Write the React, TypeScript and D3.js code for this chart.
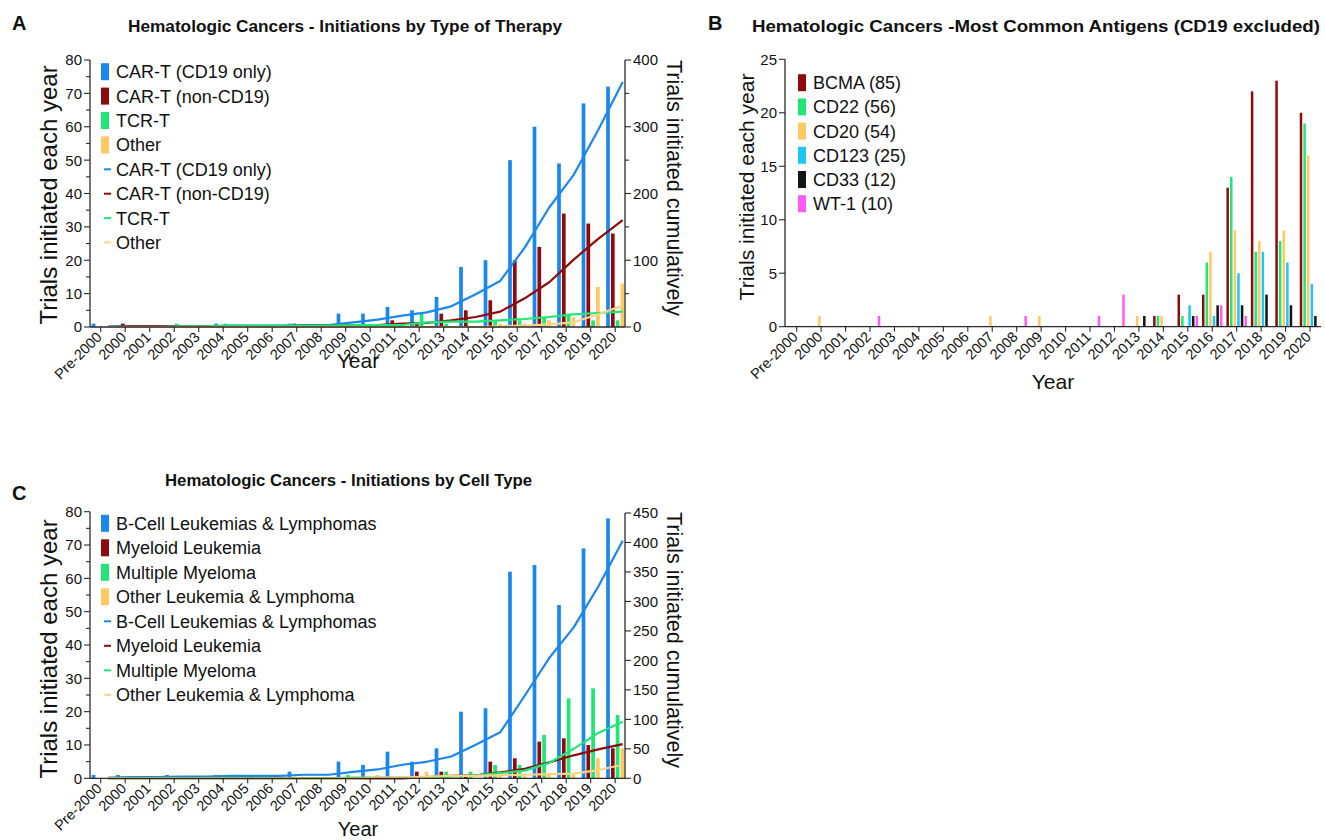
import React from 'react';
import * as d3 from 'd3';

// ---------- shared categories ----------
const CATS = ['Pre-2000','2000','2001','2002','2003','2004','2005','2006','2007','2008','2009','2010','2011','2012','2013','2014','2015','2016','2017','2018','2019','2020'];

// ---------- Panel A : by type of therapy ----------
const A_SERIES = ['CAR-T (CD19 only)','CAR-T (non-CD19)','TCR-T','Other'];
const A_CD19 =    [1,0,0,0,0,1,0,0,1,0,4,4,6,5,9,18,20,50,60,49,67,72];
const A_NONCD19 = [0,1,0,0,0,0,0,0,1,0,1,0,2,1,4,5,8,20,24,34,31,28];
const A_TCRT =    [0,0,0,1,0,1,0,0,0,0,1,0,0,4,1,0,2,2,3,4,2,2];
const A_OTHER =   [0,0,0,0,0,0,0,0,0,0,0,0,0,0,0,0,1,1,2,3,12,13];
const A_CUM_CD19 =    [1,1,1,1,1,2,2,2,3,3,7,11,17,22,31,49,69,119,179,228,295,367];
const A_CUM_NONCD19 = [0,1,1,1,1,1,1,1,2,2,3,3,5,6,10,15,23,43,67,101,132,160];
const A_CUM_TCRT =    [0,0,0,1,1,2,2,2,2,2,3,3,3,7,8,8,10,12,15,19,21,23];
const A_CUM_OTHER =   [0,0,0,0,0,0,0,0,0,0,0,0,0,0,0,0,1,2,4,7,19,32];
const A_LEFT_TICKS = [0,10,20,30,40,50,60,70,80];
const A_RIGHT_TICKS = [0,100,200,300,400];

// ---------- Panel B : antigens ----------
const B_SERIES = ['BCMA (85)','CD22 (56)','CD20 (54)','CD123 (25)','CD33 (12)','WT-1 (10)'];
const B_BCMA =  [0,0,0,0,0,0,0,0,0,0,0,0,0,0,0,1,3,3,13,22,23,20];
const B_CD22 =  [0,0,0,0,0,0,0,0,0,0,0,0,0,0,0,1,1,6,14,7,8,19];
const B_CD20 =  [0,1,0,0,0,0,0,0,1,0,1,0,0,0,1,1,0,7,9,8,9,16];
const B_CD123 = [0,0,0,0,0,0,0,0,0,0,0,0,0,0,0,0,2,1,5,7,6,4];
const B_CD33 =  [0,0,0,0,0,0,0,0,0,0,0,0,0,0,1,0,1,2,2,3,2,1];
const B_WT1 =   [0,0,0,1,0,0,0,0,0,1,0,0,1,3,0,0,1,2,1,0,0,0];
const B_TICKS = [0,5,10,15,20,25];

// ---------- Panel C : by cell type ----------
const C_SERIES = ['B-Cell Leukemias & Lymphomas','Myeloid Leukemia','Multiple Myeloma','Other Leukemia & Lymphoma'];
const C_BCELL =   [1,1,0,1,0,1,0,0,2,0,5,4,8,5,9,20,21,62,64,52,69,78];
const C_MYELOID = [0,0,0,0,0,0,0,0,0,0,0,0,0,2,2,1,5,6,11,12,10,9];
const C_MM =      [0,0,0,0,0,0,0,0,0,0,1,0,0,0,2,2,4,4,13,24,27,19];
const C_OTHER =   [0,0,0,0,0,0,0,0,0,0,0,1,0,2,1,0,1,1,1,1,6,9];
const C_CUM_BCELL =   [1,2,2,3,3,4,4,4,6,6,11,15,23,28,37,57,78,140,204,256,325,403];
const C_CUM_MYELOID = [0,0,0,0,0,0,0,0,0,0,0,0,0,2,4,5,10,16,27,39,49,58];
const C_CUM_MM =      [0,0,0,0,0,0,0,0,0,0,1,1,1,1,3,5,9,13,26,50,77,96];
const C_CUM_OTHER =   [0,0,0,0,0,0,0,0,0,0,0,1,1,3,4,4,5,6,7,8,14,23];
const C_LEFT_TICKS = [0,10,20,30,40,50,60,70,80];
const C_RIGHT_TICKS = [0,50,100,150,200,250,300,350,400,450];

// ---------- colours ----------
const BLUE = '#1a87ef';
const DARKRED = '#8e0b0b';
const GREEN = '#20e676';
const YELLOW = '#ffc860';
const LYELLOW = '#ffd384';
const CYAN = '#1ec6f6';
const BLACK = '#141414';
const MAGENTA = '#ff5af5';

const FONT = '"Liberation Sans", Arial, Helvetica, sans-serif';
const AXIS = '#2a2a2a';

type XAxisProps = { x: d3.ScalePoint<string>; y0: number; x0: number; x1: number };
function XAxis({ x, y0, x0, x1 }: XAxisProps) {
  return (
    <g>
      <line x1={x0} x2={x1} y1={y0} y2={y0} stroke={AXIS} strokeWidth={1.3} />
      {CATS.map((c) => (
        <g key={c}>
          <line x1={x(c)!} x2={x(c)!} y1={y0} y2={y0 + 5} stroke={AXIS} strokeWidth={1.1} />
          <text
            transform={`translate(${x(c)! + 2},${y0 + 11}) rotate(-45)`}
            textAnchor="end"
            fontSize={14.5}
            fontFamily={FONT}
            fill="#111"
          >
            {c}
          </text>
        </g>
      ))}
    </g>
  );
}

type YAxisProps = {
  y: d3.ScaleLinear<number, number>;
  x0: number;
  ticks: number[];
  minor?: number[];
  side: 'left' | 'right';
};
function YAxis({ y, x0, ticks, minor = [], side }: YAxisProps) {
  const dir = side === 'left' ? -1 : 1;
  const [d0, d1] = y.domain();
  return (
    <g>
      <line x1={x0} x2={x0} y1={y(d0)} y2={y(d1)} stroke={AXIS} strokeWidth={1.3} />
      {ticks.map((t) => (
        <g key={'t' + t}>
          <line x1={x0} x2={x0 + dir * 6} y1={y(t)} y2={y(t)} stroke={AXIS} strokeWidth={1.1} />
          <text
            x={x0 + dir * 8}
            y={y(t)}
            dy="0.36em"
            textAnchor={side === 'left' ? 'end' : 'start'}
            fontSize={15}
            fontFamily={FONT}
            fill="#111"
          >
            {t}
          </text>
        </g>
      ))}
      {minor.map((t) => (
        <line key={'m' + t} x1={x0} x2={x0 + dir * 4} y1={y(t)} y2={y(t)} stroke={AXIS} strokeWidth={1.1} />
      ))}
    </g>
  );
}

type BarSeries = { values: number[]; color: string; offset: number };
function Bars({ series, x, y, width }: { series: BarSeries[]; x: d3.ScalePoint<string>; y: d3.ScaleLinear<number, number>; width: number }) {
  const y0 = y(0);
  return (
    <g>
      {series.map((s, si) =>
        s.values.map((v, i) =>
          v > 0 ? (
            <rect
              key={si + '-' + i}
              x={x(CATS[i])! + s.offset - width / 2}
              y={y(v)}
              width={width}
              height={y0 - y(v)}
              fill={s.color}
            />
          ) : null
        )
      )}
    </g>
  );
}

function CumLines({ series, x, y, offset }: { series: { values: number[]; color: string }[]; x: d3.ScalePoint<string>; y: d3.ScaleLinear<number, number>; offset: number }) {
  const gen = d3
    .line<number>()
    .x((_, i) => x(CATS[i])! + offset)
    .y((v) => y(v));
  return (
    <g>
      {series.map((s, i) => (
        <path key={i} d={gen(s.values) || ''} fill="none" stroke={s.color} strokeWidth={2.2} strokeLinejoin="round" />
      ))}
    </g>
  );
}

function Legend({ x, y, step, items }: { x: number; y: number; step: number; items: { label: string; color: string; kind: 'bar' | 'line' }[] }) {
  return (
    <g>
      {items.map((it, i) => {
        const cy = y + i * step;
        return (
          <g key={i}>
            {it.kind === 'bar' ? (
              <rect x={x} y={cy - 8.5} width={8} height={17} fill={it.color} />
            ) : (
              <line x1={x + 3} x2={x + 10} y1={cy} y2={cy} stroke={it.color} strokeWidth={2} />
            )}
            <text x={x + 15} y={cy} dy="0.36em" fontSize={18} fontFamily={FONT} fill="#111">
              {it.label}
            </text>
          </g>
        );
      })}
    </g>
  );
}

export default function App() {
  // ----- panel A scales -----
  const xA = d3.scalePoint<string>().domain(CATS).range([100.7, 615.2]);
  const yAL = d3.scaleLinear().domain([0, 80]).range([327, 60]);
  const yAR = d3.scaleLinear().domain([0, 400]).range([327, 60]);
  // ----- panel B scales -----
  const xB = d3.scalePoint<string>().domain(CATS).range([796.7, 1310]);
  const yB = d3.scaleLinear().domain([0, 25]).range([326.7, 59.3]);
  // ----- panel C scales -----
  const xC = d3.scalePoint<string>().domain(CATS).range([100.7, 615.2]);
  const yCL = d3.scaleLinear().domain([0, 80]).range([778.3, 511.7]);
  const yCR = d3.scaleLinear().domain([0, 450]).range([778.3, 513]);

  const off4 = [-7.2, -2.4, 2.4, 7.2];
  const off6 = [-9, -5.4, -1.8, 1.8, 5.4, 9];

  const aColors = [BLUE, DARKRED, GREEN, YELLOW];
  const aLineColors = [BLUE, DARKRED, GREEN, LYELLOW];

  const minorA = [5, 15, 25, 35, 45, 55, 65, 75];

  return (
    <svg width={1325} height={840} style={{ position: 'absolute', left: 0, top: 0, background: '#fff' }} fontFamily={FONT}>
      <rect x={0} y={0} width={1325} height={840} fill="#fff" />

      {/* ================= PANEL A ================= */}
      <text x={12} y={30} fontSize={20} fontWeight="bold" fill="#111">A</text>
      <text x={345} y={32} textAnchor="middle" fontSize={16} fontWeight="bold" fill="#111" textLength={434} lengthAdjust="spacingAndGlyphs">
        Hematologic Cancers - Initiations by Type of Therapy
      </text>
      <Bars
        series={[A_CD19, A_NONCD19, A_TCRT, A_OTHER].map((v, i) => ({ values: v, color: aColors[i], offset: off4[i] }))}
        x={xA}
        y={yAL}
        width={3.7}
      />
      <CumLines
        series={[A_CUM_CD19, A_CUM_NONCD19, A_CUM_TCRT, A_CUM_OTHER].map((v, i) => ({ values: v, color: aLineColors[i] }))}
        x={xA}
        y={yAR}
        offset={7.5}
      />
      <XAxis x={xA} y0={327} x0={90} x1={625} />
      <YAxis y={yAL} x0={90} ticks={A_LEFT_TICKS} minor={minorA} side="left" />
      <YAxis y={yAR} x0={625} ticks={A_RIGHT_TICKS} minor={[50, 150, 250, 350]} side="right" />
      <Legend
        x={101}
        y={71.7}
        step={24.4}
        items={[
          ...A_SERIES.map((s, i) => ({ label: s, color: aColors[i], kind: 'bar' as const })),
          ...A_SERIES.map((s, i) => ({ label: s, color: aLineColors[i], kind: 'line' as const })),
        ]}
      />
      <text transform="translate(57,195) rotate(-90)" textAnchor="middle" fontSize={24} fill="#111">Trials initiated each year</text>
      <text transform="translate(667,188) rotate(90)" textAnchor="middle" fontSize={21.5} fill="#111">Trials initiated cumulatively</text>
      <text x={358} y={368} textAnchor="middle" fontSize={21} fill="#111">Year</text>

      {/* ================= PANEL B ================= */}
      <text x={708} y={30} fontSize={20} fontWeight="bold" fill="#111">B</text>
      <text x={1036} y={32} textAnchor="middle" fontSize={16} fontWeight="bold" fill="#111" textLength={568} lengthAdjust="spacingAndGlyphs">
        Hematologic Cancers -Most Common Antigens (CD19 excluded)
      </text>
      <Bars
        series={[B_BCMA, B_CD22, B_CD20, B_CD123, B_CD33, B_WT1].map((v, i) => ({
          values: v,
          color: [DARKRED, GREEN, YELLOW, CYAN, BLACK, MAGENTA][i],
          offset: off6[i],
        }))}
        x={xB}
        y={yB}
        width={2.5}
      />
      <XAxis x={xB} y0={326.7} x0={785} x1={1321} />
      <YAxis y={yB} x0={785} ticks={B_TICKS} side="left" />
      <Legend
        x={798}
        y={82.7}
        step={24.2}
        items={B_SERIES.map((s, i) => ({ label: s, color: [DARKRED, GREEN, YELLOW, CYAN, BLACK, MAGENTA][i], kind: 'bar' as const }))}
      />
      <text transform="translate(754,187) rotate(-90)" textAnchor="middle" fontSize={21} fill="#111">Trials initiated each year</text>
      <text x={1053} y={389} textAnchor="middle" fontSize={21} fill="#111">Year</text>

      {/* ================= PANEL C ================= */}
      <text x={12} y={500} fontSize={20} fontWeight="bold" fill="#111">C</text>
      <text x={348.5} y={486} textAnchor="middle" fontSize={16} fontWeight="bold" fill="#111" textLength={367} lengthAdjust="spacingAndGlyphs">
        Hematologic Cancers - Initiations by Cell Type
      </text>
      <Bars
        series={[C_BCELL, C_MYELOID, C_MM, C_OTHER].map((v, i) => ({ values: v, color: aColors[i], offset: off4[i] }))}
        x={xC}
        y={yCL}
        width={3.7}
      />
      <CumLines
        series={[C_CUM_BCELL, C_CUM_MYELOID, C_CUM_MM, C_CUM_OTHER].map((v, i) => ({ values: v, color: aLineColors[i] }))}
        x={xC}
        y={yCR}
        offset={7.5}
      />
      <XAxis x={xC} y0={778.3} x0={90} x1={625} />
      <YAxis y={yCL} x0={90} ticks={C_LEFT_TICKS} minor={minorA} side="left" />
      <YAxis y={yCR} x0={625} ticks={C_RIGHT_TICKS} side="right" />
      <Legend
        x={101}
        y={523.3}
        step={24.5}
        items={[
          ...C_SERIES.map((s, i) => ({ label: s, color: aColors[i], kind: 'bar' as const })),
          ...C_SERIES.map((s, i) => ({ label: s, color: aLineColors[i], kind: 'line' as const })),
        ]}
      />
      <text transform="translate(57,649) rotate(-90)" textAnchor="middle" fontSize={24} fill="#111">Trials initiated each year</text>
      <text transform="translate(667,640) rotate(90)" textAnchor="middle" fontSize={21.5} fill="#111">Trials initiated cumulatively</text>
      <text x={358} y={836} textAnchor="middle" fontSize={20} fill="#111">Year</text>
    </svg>
  );
}
